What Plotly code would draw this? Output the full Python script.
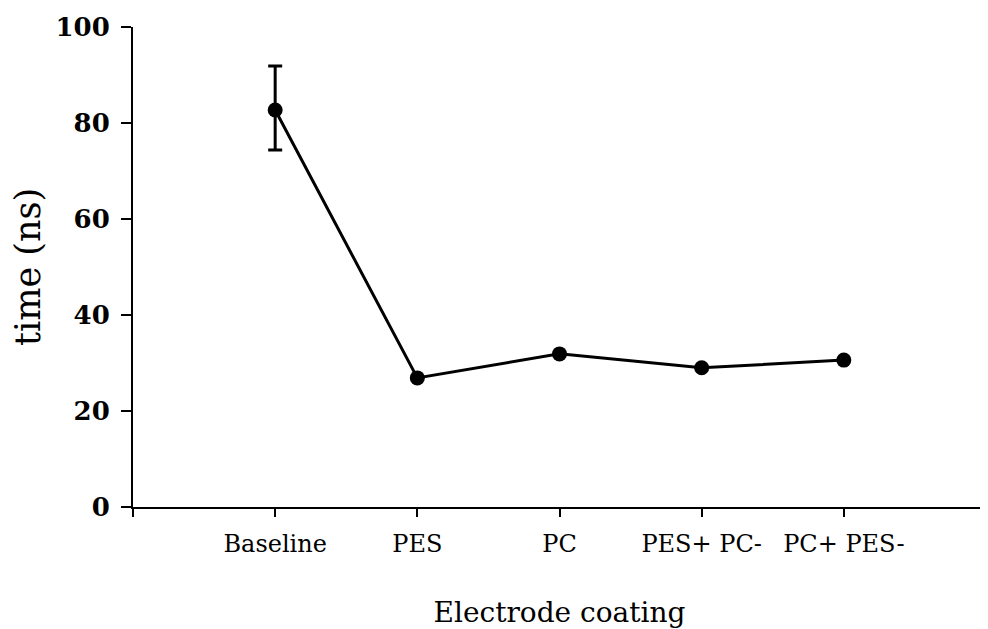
import plotly.graph_objects as go

categories = ["Baseline", "PES", "PC", "PES+ PC-", "PC+ PES-"]
time_ns = [82.7, 26.9, 31.9, 29.0, 30.6]
err_plus = [9.2, 0, 0, 0, 0]
err_minus = [8.3, 0, 0, 0, 0]
y_ticks = [0, 20, 40, 60, 80, 100]

xpos = list(range(len(categories)))

fig = go.Figure()
fig.add_trace(go.Scatter(
    x=xpos, y=time_ns, mode="lines+markers",
    line=dict(color="black", width=3),
    marker=dict(color="black", size=15),
    error_y=dict(type="data", symmetric=False, array=err_plus, arrayminus=err_minus,
                 color="black", thickness=3, width=7),
    showlegend=False,
))

fig.update_layout(
    width=980, height=621,
    margin=dict(l=125, r=2, t=19, b=122),
    paper_bgcolor="white", plot_bgcolor="white",
    font=dict(family="DejaVu Serif", color="black"),
)
fig.update_xaxes(
    range=[-1, 5],
    tickvals=[-1] + xpos + [5],
    ticktext=[""] + categories + [""],
    showline=True, linecolor="black", linewidth=2,
    ticks="outside", ticklen=8, tickwidth=2, tickcolor="black",
    showgrid=False, zeroline=False, automargin=False,
    tickfont=dict(family="DejaVu Serif", size=24),
    ticklabelstandoff=6,
    title=dict(text="Electrode coating", font=dict(family="DejaVu Serif", size=28), standoff=48),
)
fig.update_yaxes(
    range=[0, 100],
    tickvals=y_ticks,
    showline=True, linecolor="black", linewidth=2,
    ticks="outside", ticklen=10, tickwidth=2, tickcolor="black",
    showgrid=False, zeroline=False, automargin=False,
    tickfont=dict(family="DejaVu Serif", size=26, weight="bold"),
    ticklabelstandoff=6,
    title=dict(text="time (ns)", font=dict(family="DejaVu Serif", size=35), standoff=15),
)

fig.write_html("out.html")
